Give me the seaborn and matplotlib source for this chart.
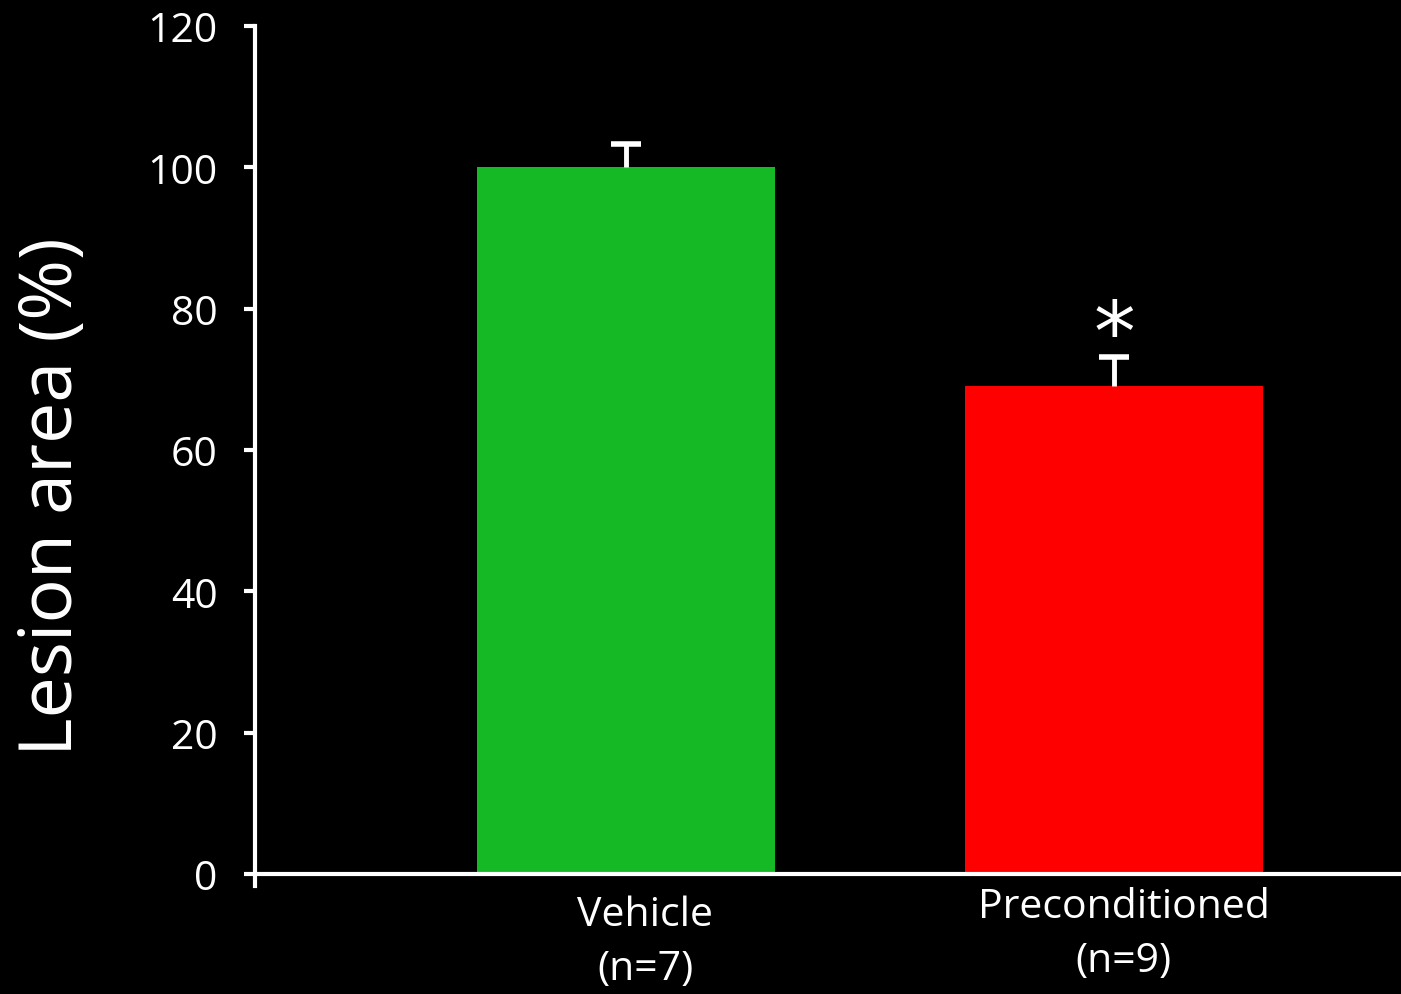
import matplotlib
matplotlib.use("Agg")
import matplotlib.pyplot as plt
import seaborn as sns
import pandas as pd

groups = ["Vehicle\n(n=7)", "Preconditioned\n(n=9)"]
lesion_area = [100.0, 69.0]
sem = [3.3, 4.1]
bar_colors = ["#15B925", "#FF0000"]
y_ticks = [0, 20, 40, 60, 80, 100, 120]

sns.set_theme(style="ticks")
plt.rcParams["font.family"] = ["Open Sans", "DejaVu Sans"]

df = pd.DataFrame({"group": groups, "area": lesion_area})

fig = plt.figure(figsize=(14.01, 9.95), dpi=100, facecolor="black")
ax = fig.add_axes([0.182, 0.1206, 0.818, 0.8523], facecolor="black")

sns.barplot(data=df, x="group", y="area", hue="group", palette=bar_colors,
            width=0.61, saturation=1, legend=False, ax=ax, errorbar=None,
            linewidth=0)

# upper-only error bars: stem from bar top plus a cap at mean + SEM
for i, (m, e) in enumerate(zip(lesion_area, sem)):
    ax.plot([i, i], [m, m + e], color="white", lw=3.5, solid_capstyle="butt",
            zorder=3)
    ax.plot([i], [m + e], marker="_", markersize=21, markeredgewidth=4,
            color="white", zorder=3)

ax.text(1, lesion_area[1] + sem[1] + 2.9, "*", color="white", fontsize=60,
        ha="center", va="center", family="DejaVu Sans")

ax.set_xlim(-0.76, 1.588)
ax.set_ylim(0, 120)
ax.set_yticks(y_ticks)
ax.set_xlabel("")
ax.set_ylabel("Lesion area (%)", color="white", fontsize=53, labelpad=41)
ax.yaxis.label.set_y(0.446)

for side in ["top", "right"]:
    ax.spines[side].set_visible(False)
for side in ["left", "bottom"]:
    ax.spines[side].set_color("white")
    ax.spines[side].set_linewidth(3)
ax.spines["left"].set_bounds(-1.7, 120)

ax.tick_params(axis="y", colors="white", labelsize=29.5, length=8, width=3,
               direction="out", pad=19)
ax.tick_params(axis="x", length=0, pad=0)
ax.set_xticks([0, 1])
ax.set_xticklabels([])
# category labels under the bars
ax.text(0.04, -2.9, groups[0], color="white", fontsize=29.5, ha="center",
        va="top", linespacing=1.45, transform=ax.transData)
ax.text(1.02, -1.8, groups[1], color="white", fontsize=29.5, ha="center",
        va="top", linespacing=1.45, transform=ax.transData)

fig.savefig("out.png", dpi=100, facecolor="black")
